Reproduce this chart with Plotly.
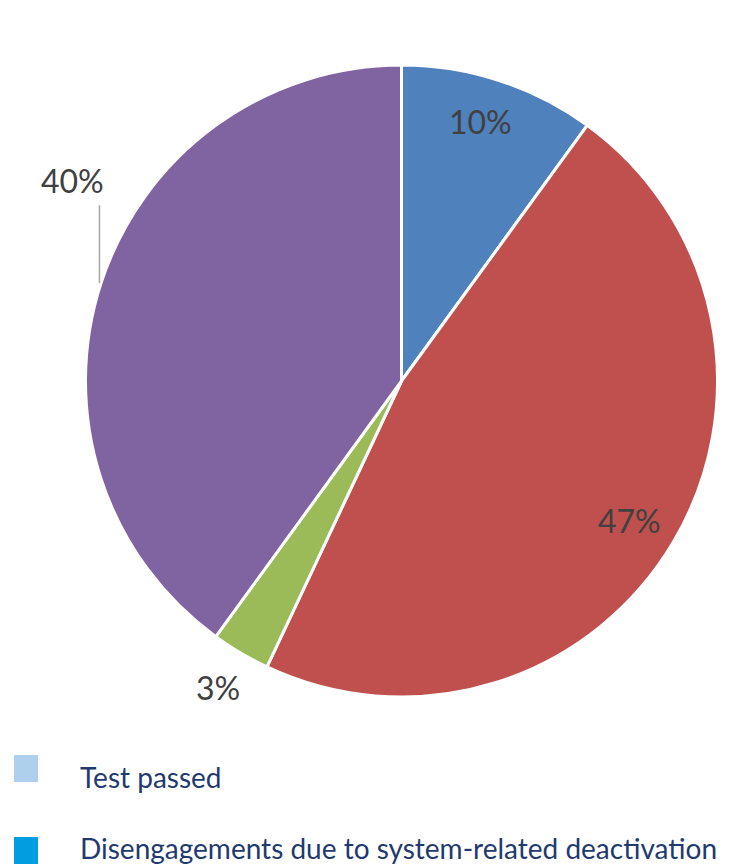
import math
import plotly.graph_objects as go

# Share of test outcomes (percent)
shares = [10, 47, 3, 40]
slice_colors = ["#4F81BD", "#C0504D", "#9BBB59", "#8064A2"]
share_labels = [f"{v}%" for v in shares]

# Legend entries shown beneath the chart
legend_items = ["Test passed", "Disengagements due to system-related deactivation"]
legend_colors = ["#AFCFEE", "#009EE0"]

W, H = 756, 867
cx, cy, R = 401.5, 381.0, 316.0  # pie centre and radius in pixels

# Label placement: (radius factor, angular shift in degrees) per slice
label_place = [(0.86, -1.0), (0.845, 0.8), (1.13, 0.3), (1.22, 13.4)]

def px_to_paper(x, y):
    return x / W, 1 - y / H

fig = go.Figure()
fig.add_trace(go.Pie(
    values=shares,
    labels=share_labels,
    sort=False,
    direction="clockwise",
    rotation=0,
    marker=dict(colors=slice_colors, line=dict(color="white", width=3)),
    textinfo="none",
    hoverinfo="label",
    showlegend=False,
    domain=dict(x=[(cx - R) / W, (cx + R) / W], y=[1 - (cy + R) / H, 1 - (cy - R) / H]),
))

annotations = []
shapes = []
total = sum(shares)
start = 0.0
for i, v in enumerate(shares):
    span = v / total * 360
    mid = start + span / 2
    k, shift = label_place[i]
    ang = math.radians(mid + shift)
    lx = cx + k * R * math.sin(ang)
    ly = cy - k * R * math.cos(ang)
    px, py = px_to_paper(lx, ly)
    annotations.append(dict(
        x=px, y=py, xref="paper", yref="paper", text=share_labels[i],
        showarrow=False, xanchor="center", yanchor="middle",
        font=dict(family="Lato", size=32, color="#404040"),
    ))
    if k > 1.2:
        # Leader line dropped from the label down to the pie edge
        line_x = lx + 27
        y_top = ly + 25
        y_edge = cy - math.sqrt(R * R - (line_x - cx) ** 2)
        x0, y0 = px_to_paper(line_x, y_top)
        x1, y1 = px_to_paper(line_x, y_edge - 5)
        shapes.append(dict(type="line", xref="paper", yref="paper",
                           x0=x0, y0=y0, x1=x1, y1=y1,
                           line=dict(color="#A6A6A6", width=1.5)))
    start += span

# Legend rows drawn as swatches plus text
swatch_rows = [768.5, 850.5]
text_rows = [777.0, 848.0]
for name, col, sy, ty_px in zip(legend_items, legend_colors, swatch_rows, text_rows):
    x0, y0 = px_to_paper(14, sy - 13.5)
    x1, y1 = px_to_paper(38, sy + 13.5)
    shapes.append(dict(type="rect", xref="paper", yref="paper",
                       x0=x0, y0=y1, x1=x1, y1=y0,
                       fillcolor=col, line=dict(width=0)))
    tx, ty = px_to_paper(78, ty_px)
    annotations.append(dict(
        x=tx, y=ty, xref="paper", yref="paper", text=name,
        showarrow=False, xanchor="left", yanchor="middle",
        font=dict(family="Lato", size=28, color="#1F3A6E"),
    ))

fig.update_layout(
    width=W, height=H,
    margin=dict(l=0, r=0, t=0, b=0),
    paper_bgcolor="white",
    plot_bgcolor="white",
    annotations=annotations,
    shapes=shapes,
)

fig.write_html("out.html")
